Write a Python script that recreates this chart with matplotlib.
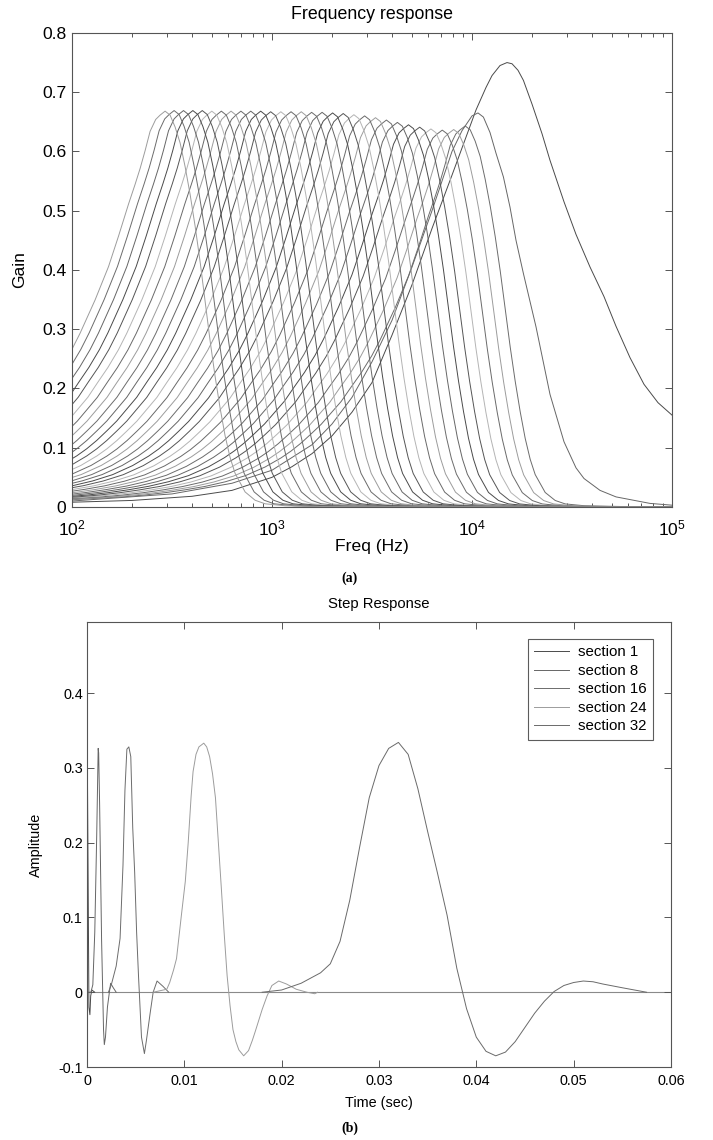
import numpy as np
import matplotlib.pyplot as plt
from matplotlib.ticker import FixedLocator, FixedFormatter, LogLocator, NullFormatter

plt.rcParams['font.family'] = ['Liberation Sans', 'DejaVu Sans']

# ---------------- (a) frequency response of the 32 sections ----------------
# sections 3..32: peak frequency (Hz) and peak gain
reg_peak_freq = [9246, 8098, 7102, 6231, 5474, 4813, 4236, 3733, 3292, 2905,
                 2567, 2270, 2009, 1780, 1578, 1400, 1245, 1107, 985, 878,
                 783, 699, 624, 558, 500, 448, 402, 361, 324, 292]
reg_peak_gain = [0.643, 0.637, 0.636, 0.638, 0.641, 0.645, 0.649, 0.653, 0.657, 0.660,
                 0.662, 0.664, 0.665, 0.666, 0.666, 0.667, 0.667, 0.667, 0.667, 0.668,
                 0.668, 0.668, 0.668, 0.668, 0.668, 0.669, 0.669, 0.669, 0.669, 0.668]

# common shape of the regular sections: offset from peak (decades) -> gain / peak gain
shape_offset = [-2.2, -2.0, -1.9, -1.8, -1.7, -1.6, -1.5, -1.4, -1.3, -1.2, -1.1, -1.0,
                -0.92, -0.87, -0.82, -0.77, -0.72, -0.67, -0.62, -0.57, -0.52, -0.467,
                -0.425, -0.35, -0.283, -0.233, -0.183, -0.15, -0.125, -0.1, -0.075,
                -0.047, -0.025, 0.0, 0.025, 0.05, 0.075, 0.1, 0.125, 0.15, 0.175, 0.2,
                0.225, 0.25, 0.275, 0.3, 0.325, 0.35, 0.4, 0.45, 0.5, 0.6, 0.8, 1.0, 3.0]
shape_rel = [0.015, 0.018, 0.021, 0.024, 0.027, 0.0315, 0.0375, 0.045, 0.054, 0.066, 0.082, 0.105,
             0.129, 0.147, 0.168, 0.192, 0.217, 0.247, 0.277, 0.315, 0.352, 0.397,
             0.439, 0.523, 0.607, 0.684, 0.765, 0.815, 0.855, 0.90, 0.949,
             0.979, 0.99, 1.0, 0.99, 0.96, 0.92, 0.86, 0.79, 0.71, 0.62, 0.52,
             0.42, 0.33, 0.25, 0.18, 0.125, 0.085, 0.038, 0.017, 0.008, 0.003, 0.001, 0.0005, 0.0]

# sections 1 and 2 (broader, highest frequencies): log10(freq) and gain
sec1_logf = [2.0, 2.3, 2.6, 2.8, 3.0, 3.1, 3.2, 3.3, 3.4, 3.5, 3.6, 3.7, 3.8, 3.9, 3.96,
             4.02, 4.07, 4.10, 4.14, 4.175, 4.20, 4.23, 4.257, 4.30, 4.35, 4.39, 4.43,
             4.46, 4.52, 4.59, 4.66, 4.72, 4.79, 4.86, 4.93, 5.0]
sec1_gain = [0.008, 0.011, 0.018, 0.028, 0.05, 0.068, 0.09, 0.12, 0.16, 0.21, 0.29, 0.375,
             0.47, 0.56, 0.615, 0.67, 0.708, 0.728, 0.745, 0.75, 0.748, 0.737, 0.72, 0.68,
             0.63, 0.585, 0.545, 0.515, 0.46, 0.405, 0.355, 0.305, 0.252, 0.207, 0.176, 0.155]
sec2_logf = [2.0, 2.5, 2.8, 3.0, 3.2, 3.3, 3.4, 3.5, 3.6, 3.7, 3.8, 3.85, 3.9, 3.95, 4.0,
             4.03, 4.057, 4.09, 4.12, 4.157, 4.19, 4.22, 4.257, 4.32, 4.39, 4.46, 4.52,
             4.56, 4.64, 4.72, 4.89, 5.0]
sec2_gain = [0.01, 0.022, 0.04, 0.062, 0.105, 0.14, 0.185, 0.245, 0.315, 0.405, 0.5, 0.55,
             0.6, 0.635, 0.66, 0.665, 0.658, 0.632, 0.597, 0.557, 0.506, 0.45, 0.394,
             0.304, 0.19, 0.11, 0.066, 0.048, 0.028, 0.017, 0.006, 0.003]

# ---------------- (b) step response of five sections ----------------
step_labels = ['section 1', 'section 8', 'section 16', 'section 24', 'section 32']
t_s1 = [0.0, 0.00002, 0.0002, 0.0003, 0.00038, 0.0005, 0.0008]
y_s1 = [0.0, 0.345, -0.02, -0.03, -0.005, 0.003, 0.0]
t_s8 = [0.0, 0.0004, 0.0006, 0.0008, 0.001, 0.00115, 0.0012, 0.0013, 0.0015, 0.0017,
        0.00178, 0.0019, 0.0021, 0.0023, 0.00243, 0.0027, 0.003]
y_s8 = [0.0, 0.0, 0.01, 0.08, 0.21, 0.326, 0.32, 0.25, 0.07, -0.05,
        -0.07, -0.06, -0.02, 0.0, 0.012, 0.006, 0.0]
t_s16 = [0.0022, 0.0025, 0.003, 0.0034, 0.0037, 0.0039, 0.0041, 0.0043, 0.0045, 0.0047,
         0.0049, 0.0051, 0.0053, 0.0056, 0.0059, 0.0061, 0.0065, 0.0068, 0.0072, 0.0078, 0.0084]
y_s16 = [0.0, 0.01, 0.035, 0.072, 0.17, 0.27, 0.325, 0.328, 0.315, 0.22,
         0.16, 0.08, 0.02, -0.06, -0.082, -0.065, -0.027, 0.0, 0.015, 0.008, 0.0]
t_s24 = [0.0068, 0.0082, 0.0085, 0.0089, 0.0092, 0.0097, 0.0101, 0.0104, 0.0107, 0.0109,
         0.0112, 0.0115, 0.012, 0.0123, 0.0126, 0.0129, 0.0132, 0.0135, 0.0138, 0.0141,
         0.0144, 0.0147, 0.015, 0.0153, 0.0156, 0.0161, 0.0166, 0.017, 0.0173, 0.018,
         0.0185, 0.019, 0.0197, 0.0205, 0.0215, 0.0226, 0.0234, 0.0237]
y_s24 = [0.0, 0.004, 0.013, 0.03, 0.045, 0.103, 0.148, 0.2, 0.262, 0.295,
         0.318, 0.328, 0.333, 0.328, 0.315, 0.292, 0.26, 0.2, 0.14, 0.078,
         0.022, -0.018, -0.05, -0.066, -0.077, -0.085, -0.078, -0.064, -0.052, -0.023,
         -0.005, 0.009, 0.015, 0.011, 0.004, 0.0, -0.002, 0.0]
t_s32 = [0.018, 0.02, 0.022, 0.024, 0.025, 0.026, 0.027, 0.028, 0.029, 0.030,
         0.031, 0.032, 0.033, 0.034, 0.035, 0.036, 0.037, 0.038, 0.039, 0.040,
         0.041, 0.042, 0.043, 0.044, 0.045, 0.046, 0.047, 0.048, 0.049, 0.050,
         0.051, 0.052, 0.053, 0.055, 0.0575]
y_s32 = [0.0, 0.003, 0.012, 0.026, 0.038, 0.068, 0.123, 0.193, 0.26, 0.303,
         0.326, 0.334, 0.318, 0.272, 0.215, 0.16, 0.103, 0.032, -0.022, -0.06,
         -0.079, -0.085, -0.08, -0.066, -0.047, -0.028, -0.012, 0.001, 0.009, 0.013,
         0.015, 0.014, 0.011, 0.006, 0.0]

# MATLAB default colour order as it looks after grey-scale printing
grays = ['#4a4a4a', '#666666', '#6c6c6c', '#9c9c9c', '#6a6a6a', '#b4b4b4', '#555555']
axis_col = '#555555'


def style_axes(ax, size, xpad, ypad):
    for sp in ax.spines.values():
        sp.set_color(axis_col)
        sp.set_linewidth(0.8)
    ax.tick_params(which='both', direction='in', top=True, right=True,
                   color=axis_col, labelcolor='black', labelsize=size, width=0.7)
    ax.tick_params(which='major', length=5)
    ax.tick_params(which='minor', length=3)
    ax.tick_params(axis='x', pad=xpad)
    ax.tick_params(axis='y', pad=ypad)


fig = plt.figure(figsize=(7.13, 11.4), dpi=100)

# ---- top: frequency response ----
ax1 = fig.add_axes([0.101, 0.5553, 0.8415, 0.4158])
shape_offset = np.array(shape_offset)
shape_rel = np.array(shape_rel)
ax1.plot(10 ** np.array(sec1_logf), sec1_gain, color=grays[0], lw=0.7)
ax1.plot(10 ** np.array(sec2_logf), sec2_gain, color=grays[1], lw=0.7)
for k, (fp, gp) in enumerate(zip(reg_peak_freq, reg_peak_gain)):
    sec = k + 3
    ax1.plot(fp * 10 ** shape_offset, gp * shape_rel, color=grays[(sec - 1) % 7], lw=0.7)

ax1.set_xscale('log')
ax1.set_xlim(1e2, 1e5)
ax1.set_ylim(0, 0.8)
ax1.xaxis.set_major_locator(LogLocator(base=10, numticks=10))
ax1.xaxis.set_minor_locator(LogLocator(base=10, subs=np.arange(2, 10), numticks=20))
ax1.xaxis.set_minor_formatter(NullFormatter())
yt1 = [0, 0.1, 0.2, 0.3, 0.4, 0.5, 0.6, 0.7, 0.8]
ax1.yaxis.set_major_locator(FixedLocator(yt1))
ax1.yaxis.set_major_formatter(FixedFormatter(['0', '0.1', '0.2', '0.3', '0.4', '0.5', '0.6', '0.7', '0.8']))
style_axes(ax1, 12.6, 8, 4)
ax1.set_title('Frequency response', fontsize=12.8, pad=10)
ax1.set_xlabel('Freq (Hz)', fontsize=12.6)
ax1.set_ylabel('Gain', fontsize=12.6)
ax1.xaxis.set_label_coords(0.5, -0.068)
ax1.yaxis.set_label_coords(-0.075, 0.5)

fig.text(349 / 713, 1 - 578 / 1140, '(a)', family=['Liberation Serif', 'DejaVu Serif'],
         fontsize=10, fontweight='bold', ha='center', va='center')

# ---- bottom: step response ----
ax2 = fig.add_axes([0.122, 0.064, 0.819, 0.3904])
ax2.axhline(0, color='#8a8a8a', lw=0.8, zorder=1)
step_t = [t_s1, t_s8, t_s16, t_s24, t_s32]
step_y = [y_s1, y_s8, y_s16, y_s24, y_s32]
for i, (t, y, lab) in enumerate(zip(step_t, step_y, step_labels)):
    ax2.plot(t, y, color=grays[i], lw=0.7, label=lab, zorder=2)

ax2.set_xlim(0, 0.06)
ax2.set_ylim(-0.1, 0.495)
ax2.xaxis.set_major_locator(FixedLocator([0, 0.01, 0.02, 0.03, 0.04, 0.05, 0.06]))
ax2.xaxis.set_major_formatter(FixedFormatter(['0', '0.01', '0.02', '0.03', '0.04', '0.05', '0.06']))
ax2.yaxis.set_major_locator(FixedLocator([-0.1, 0, 0.1, 0.2, 0.3, 0.4]))
ax2.yaxis.set_major_formatter(FixedFormatter(['-0.1', '0', '0.1', '0.2', '0.3', '0.4']))
style_axes(ax2, 10.4, 5, 3)
ax2.set_title('Step Response', fontsize=10.7, pad=10)
ax2.set_xlabel('Time (sec)', fontsize=10.4)
ax2.set_ylabel('Amplitude', fontsize=10.4)
ax2.xaxis.set_label_coords(0.5, -0.064)
ax2.yaxis.set_label_coords(-0.075, 0.5)

leg = ax2.legend(loc='upper right', bbox_to_anchor=(0.9697, 0.9625), borderaxespad=0,
                 fontsize=10.8, fancybox=False, handlelength=2.3, handletextpad=0.6,
                 labelspacing=0.3, borderpad=0.45)
leg.get_frame().set_edgecolor('#333333')
leg.get_frame().set_linewidth(0.8)

fig.text(350 / 713, 1 - 1128 / 1140, '(b)', family=['Liberation Serif', 'DejaVu Serif'],
         fontsize=10, fontweight='bold', ha='center', va='center')

fig.savefig('out.png', dpi=100)
